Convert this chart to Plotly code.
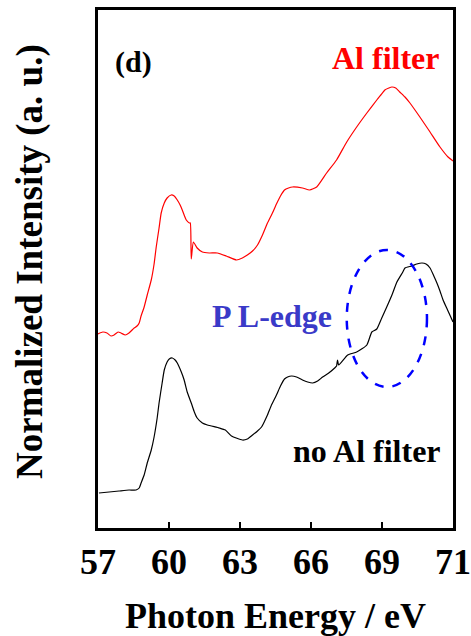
import plotly.graph_objects as go

# Photon energy (eV) and normalized intensity, with Al filter
energy_al = [57.00, 57.20, 57.38, 57.55, 57.68, 57.85, 57.97, 58.15, 58.31, 58.53,
             58.65, 58.74, 58.82, 58.95, 59.08, 59.25, 59.37, 59.46, 59.58, 59.67,
             59.80, 59.92, 60.09, 60.22, 60.35, 60.47, 60.56, 60.64, 60.73, 60.86,
             60.90, 60.94, 61.03, 61.19, 61.41, 61.70, 62.04, 62.42, 62.85, 63.10,
             63.31, 63.53, 63.74, 63.95, 64.16, 64.37, 64.54, 64.71, 64.88, 65.05,
             65.22, 65.64, 65.94, 66.24, 66.66, 67.08, 67.51, 67.93, 68.36, 68.78,
             68.95, 69.12, 69.29, 69.42, 69.58, 69.75, 69.97, 70.18, 70.60, 71.03,
             71.45, 71.79, 72.00]
intensity_al = [1.94, 1.96, 1.95, 1.92, 1.93, 1.96, 1.95, 1.93, 1.95, 2.00,
                2.02, 2.05, 2.12, 2.21, 2.33, 2.48, 2.64, 2.81, 3.00, 3.15,
                3.25, 3.30, 3.33, 3.32, 3.28, 3.23, 3.18, 3.13, 3.08, 3.05,
                3.05, 2.69, 2.86, 2.80, 2.76, 2.75, 2.75, 2.72, 2.68, 2.70,
                2.73, 2.77, 2.83, 2.93, 3.05, 3.15, 3.24, 3.32, 3.38, 3.40,
                3.41, 3.40, 3.38, 3.41, 3.55, 3.68, 3.86, 4.01, 4.15, 4.28,
                4.33, 4.38, 4.40, 4.41, 4.40, 4.36, 4.31, 4.25, 4.11, 3.96,
                3.81, 3.71, 3.67]

# Without Al filter
energy_noal = [57.04, 57.47, 57.89, 58.31, 58.61, 58.74, 58.82, 58.95, 59.08, 59.25,
               59.37, 59.50, 59.58, 59.71, 59.80, 59.92, 60.01, 60.14, 60.26, 60.35,
               60.52, 60.64, 60.77, 60.94, 61.07, 61.19, 61.41, 61.62, 62.13, 62.38,
               62.64, 63.10, 63.31, 63.53, 63.74, 63.91, 64.16, 64.33, 64.54, 64.71,
               64.88, 65.01, 65.18, 65.39, 65.64, 65.86, 66.07, 66.28, 66.49, 66.75,
               67.00, 67.08, 67.12, 67.17, 67.55, 67.93, 68.36, 68.57, 68.78, 68.99,
               69.20, 69.42, 69.63, 69.88, 69.97, 70.26, 70.47, 70.69, 70.86, 71.03,
               71.19, 71.32, 71.45, 71.58, 71.79, 72.00]
intensity_noal = [0.35, 0.36, 0.37, 0.38, 0.38, 0.40, 0.45, 0.53, 0.65, 0.78,
                  0.91, 1.10, 1.25, 1.45, 1.58, 1.66, 1.69, 1.70, 1.68, 1.65,
                  1.56, 1.48, 1.36, 1.25, 1.16, 1.10, 1.05, 1.03, 1.00, 0.98,
                  0.92, 0.88, 0.89, 0.93, 0.97, 1.01, 1.13, 1.23, 1.33, 1.42,
                  1.49, 1.51, 1.52, 1.51, 1.48, 1.46, 1.45, 1.47, 1.51, 1.55,
                  1.60, 1.62, 1.68, 1.63, 1.73, 1.76, 1.83, 1.96, 1.99, 2.10,
                  2.21, 2.33, 2.46, 2.56, 2.60, 2.62, 2.64, 2.65, 2.64, 2.60,
                  2.52, 2.45, 2.37, 2.28, 2.17, 2.06]

tick_vals = [57, 60, 63, 66, 69, 72]
tick_text = ["57", "60", "63", "66", "69", "71"]

# P L-edge region outline (energy span, intensity span)
edge_energy = [67.51, 70.90]
edge_intensity = [1.41, 2.78]

FONT = "Liberation Serif, Times New Roman, serif"

fig = go.Figure()
fig.add_trace(go.Scatter(x=energy_al, y=intensity_al, mode="lines",
                         line=dict(color="#ff0000", width=1.2, shape="spline", smoothing=0.5),
                         showlegend=False))
fig.add_trace(go.Scatter(x=energy_noal, y=intensity_noal, mode="lines",
                         line=dict(color="#000000", width=1.2, shape="spline", smoothing=0.5),
                         showlegend=False))

fig.add_shape(type="circle", xref="x", yref="y",
              x0=edge_energy[0], x1=edge_energy[1],
              y0=edge_intensity[0], y1=edge_intensity[1],
              line=dict(color="#0000ff", width=2.5, dash="dash"))

annotations = [
    dict(text="<b>(d)</b>", x=58.5, y=4.66, font=dict(size=30, color="black")),
    dict(text="<b>Al filter</b>", x=69.15, y=4.70, font=dict(size=32, color="#ff0000")),
    dict(text="<b>P L-edge</b>", x=64.35, y=2.12, font=dict(size=32, color="#3a3ac8")),
    dict(text="<b>no Al filter</b>", x=68.35, y=0.77, font=dict(size=32, color="black")),
]
for a in annotations:
    fig.add_annotation(xref="x", yref="y", showarrow=False,
                       xanchor="center", yanchor="middle",
                       font_family=FONT, **a)

fig.add_annotation(text="<b>Normalized Intensity (a. u.)</b>", textangle=-90,
                   xref="paper", yref="paper", x=(30 - 98) / 355, y=(528 - 262) / 518,
                   xanchor="center", yanchor="middle", showarrow=False,
                   font=dict(family=FONT, size=37, color="black"))

fig.update_xaxes(range=[57, 72], tickvals=tick_vals, ticktext=tick_text,
                 ticks="inside", ticklen=6, tickwidth=2, tickcolor="black",
                 showline=True, linewidth=3, linecolor="black", mirror=True,
                 showgrid=False, zeroline=False, automargin=False,
                 tickfont=dict(family=FONT, size=36, color="black", weight="bold"),
                 title=dict(text="<b>Photon Energy / eV</b>", standoff=22,
                            font=dict(family=FONT, size=36, color="black")))
fig.update_yaxes(range=[0, 5.18], showticklabels=False, ticks="",
                 showline=True, linewidth=3, linecolor="black", mirror=True,
                 showgrid=False, zeroline=False, automargin=False)

fig.update_layout(width=471, height=636,
                  margin=dict(l=98, r=18, t=10, b=108, autoexpand=False),
                  plot_bgcolor="white", paper_bgcolor="white",
                  font=dict(family=FONT))

fig.write_html("out.html")
